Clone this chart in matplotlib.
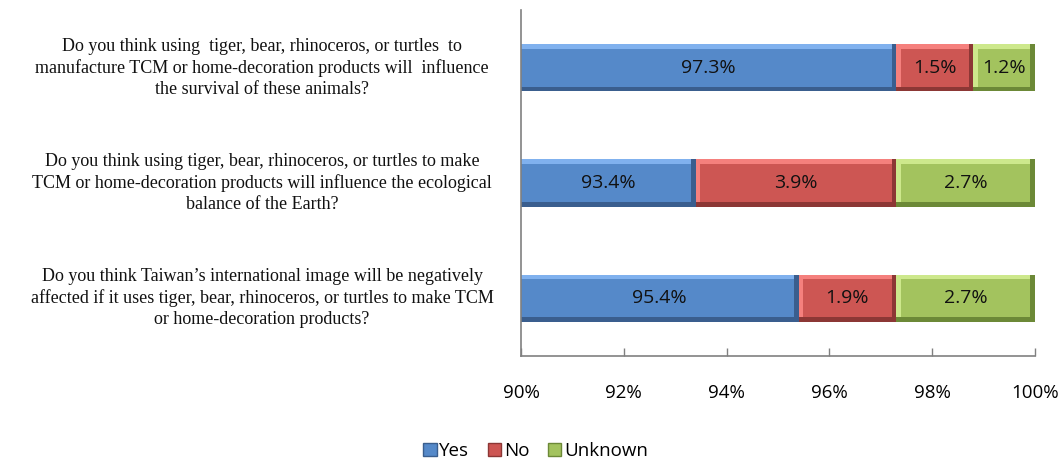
import numpy as np
import matplotlib.pyplot as plt
from matplotlib.patches import Patch

questions = [
    "Do you think using  tiger, bear, rhinoceros, or turtles  to\nmanufacture TCM or home-decoration products will  influence\nthe survival of these animals?",
    "Do you think using tiger, bear, rhinoceros, or turtles to make\nTCM or home-decoration products will influence the ecological\nbalance of the Earth?",
    "Do you think Taiwan\u2019s international image will be negatively\naffected if it uses tiger, bear, rhinoceros, or turtles to make TCM\nor home-decoration products?",
]
yes = [97.3, 93.4, 95.4]
no = [1.5, 3.9, 1.9]
unknown = [1.2, 2.7, 2.7]
series_names = ["Yes", "No", "Unknown"]
xticks = [90, 92, 94, 96, 98, 100]

# (main, light top edge, dark bottom edge)
colors = [
    ("#5589C9", "#80B1EE", "#3A5E8E"),
    ("#CD5653", "#F5807D", "#8C3735"),
    ("#A3C35E", "#CDE88C", "#6C8937"),
]

num_font = "Open Sans"
serif_font = "Liberation Serif"

fig = plt.figure(figsize=(10.61, 4.59), dpi=100)
ax = fig.add_axes([0.491, 0.2244, 0.4845, 0.7536])

y = np.arange(len(questions)) + 0.5
h = 0.41
bx, by = 0.09, 0.04  # bevel thickness in data units


def bevel_bar(ax, yc, left, width, cols):
    main, light, dark = cols
    ax.barh(yc, width, h, left=left, color=dark, linewidth=0)
    ax.barh(yc - by / 2, width - bx, h - by, left=left, color=light, linewidth=0)
    ax.barh(yc, width - 2 * bx, h - 2 * by, left=left + bx, color=main, linewidth=0)


lefts = np.zeros(len(questions))
for vals, cols in zip([yes, no, unknown], colors):
    for i in range(len(questions)):
        bevel_bar(ax, y[i], lefts[i], vals[i], cols)
        mid = max(lefts[i], 90) + (lefts[i] + vals[i] - max(lefts[i], 90)) / 2
        ax.text(mid, y[i], f"{vals[i]:.1f}%", ha="center", va="center",
                fontsize=14, family=num_font, color="#111111")
    lefts += np.array(vals)

ax.set_xlim(90, 100)
ax.set_ylim(3, 0)
ax.set_xticks(xticks)
ax.set_xticklabels([f"{t}%" for t in xticks], family=num_font, fontsize=13.5)
ax.tick_params(axis="x", direction="in", length=6, width=1, color="#808080", pad=20)
ax.set_yticks([])
for side in ["top", "right"]:
    ax.spines[side].set_visible(False)
for side in ["left", "bottom"]:
    ax.spines[side].set_color("#808080")
    ax.spines[side].set_linewidth(1.2)

for i, q in enumerate(questions):
    fig.text(0.247, ax.transData.transform((0, y[i]))[1] / fig.bbox.height, q,
             ha="center", va="center", family=serif_font, fontsize=13,
             linespacing=1.3, color="#111111")

handles = [Patch(facecolor=c[0], edgecolor=c[2]) for c in colors]
fig.legend(handles, series_names, loc="lower center", ncol=3, frameon=False,
           prop={"family": num_font, "size": 13.5}, handlelength=0.7,
           handleheight=0.7, handletextpad=0.15, columnspacing=1.0,
           bbox_to_anchor=(0.505, -0.04))

fig.savefig("out.png", dpi=100)
